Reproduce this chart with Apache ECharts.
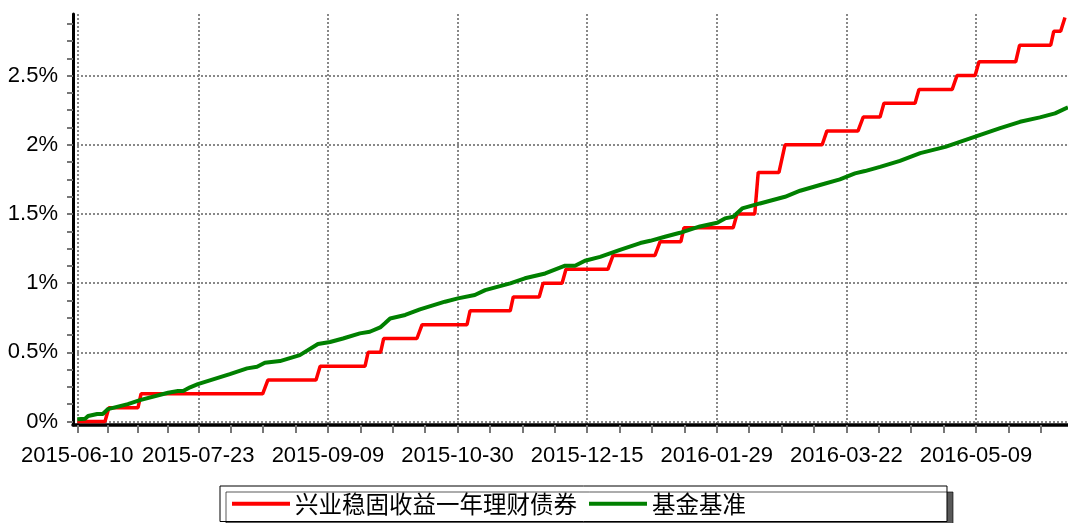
<!DOCTYPE html>
<html>
<head>
<meta charset="utf-8">
<script src="https://cdn.jsdelivr.net/npm/echarts@6/dist/echarts.min.js"></script>
<style>
  html, body { margin: 0; padding: 0; background: #fff; }
  #chart { width: 1068px; height: 523px; }
</style>
</head>
<body>
<div id="chart"></div>
<script>
// x 轴单位：交易日序号（0 = 2015-06-10）
var xLabelPos = [0, 28, 58, 88, 118, 148, 178, 208];
var xLabels = ['2015-06-10', '2015-07-23', '2015-09-09', '2015-10-30', '2015-12-15', '2016-01-29', '2016-03-22', '2016-05-09'];
var xTickPos = [0, 7, 14, 21, 28, 35.5, 43, 50.5, 58, 65.5, 73, 80.5, 88, 95.5, 103, 110.5, 118,
  125.5, 133, 140.5, 148, 155.5, 163, 170.5, 178, 185.5, 193, 200.5, 208, 215.5, 223];

var yLabelPos = [0, 0.5, 1, 1.5, 2, 2.5];
var yLabels = ['0%', '0.5%', '1%', '1.5%', '2%', '2.5%'];
var yTickPos = [0, 0.125, 0.25, 0.375, 0.5, 0.625, 0.75, 0.875, 1, 1.125, 1.25, 1.375, 1.5,
  1.625, 1.75, 1.875, 2, 2.125, 2.25, 2.375, 2.5, 2.625, 2.75, 2.875];

var seriesNames = ['兴业稳固收益一年理财债券', '基金基准'];

// 累计收益率（%）
var fundData = [
  [0, 0], [6.4, 0], [7.3, 0.1], [14.05, 0.1], [14.75, 0.2], [42.9, 0.2], [44.1, 0.3],
  [55.25, 0.3], [56.2, 0.4], [66.6, 0.4], [67.3, 0.5], [70.2, 0.5], [70.9, 0.6],
  [78.6, 0.6], [79.8, 0.7], [90.2, 0.7], [90.9, 0.8], [100.2, 0.8], [100.9, 0.9],
  [106.9, 0.9], [107.8, 1.0], [112.2, 1.0], [113.1, 1.1], [122.8, 1.1], [124.0, 1.2],
  [133.7, 1.2], [134.9, 1.3], [139.7, 1.3], [140.4, 1.4], [151.8, 1.4], [152.7, 1.5],
  [156.8, 1.5], [157.6, 1.8], [162.4, 1.8], [163.8, 2.0], [172.4, 2.0], [173.5, 2.1],
  [180.7, 2.1], [181.9, 2.2], [185.8, 2.2], [186.7, 2.3], [193.9, 2.3], [194.8, 2.4],
  [202.5, 2.4], [203.6, 2.5], [207.8, 2.5], [208.7, 2.6], [217.2, 2.6], [218.1, 2.72],
  [225.3, 2.72], [226.0, 2.82], [227.6, 2.82], [228.6, 2.92]
];

var benchData = [
  [0, 0.016], [1.8, 0.02], [2.5, 0.04], [4.6, 0.055], [5.9, 0.055], [7.1, 0.09],
  [11.7, 0.126], [14.5, 0.155], [21.0, 0.208], [23.3, 0.22], [24.5, 0.22], [26.1, 0.247],
  [27.9, 0.27], [35.3, 0.343], [39.3, 0.384], [41.6, 0.396], [43.4, 0.425], [46.9, 0.437],
  [51.5, 0.48], [55.7, 0.56], [58.5, 0.575], [61.5, 0.6], [65.4, 0.637], [67.7, 0.649],
  [70.1, 0.68], [71.2, 0.71], [72.4, 0.745], [75.9, 0.77], [79.3, 0.81], [85.1, 0.866],
  [88.1, 0.89], [92.0, 0.914], [94.4, 0.95], [100.2, 0.998], [103.6, 1.035], [108.3, 1.07],
  [112.9, 1.126], [115.2, 1.126], [117.5, 1.162], [121.0, 1.19], [125.6, 1.24],
  [130.3, 1.29], [132.6, 1.306], [136.0, 1.335], [139.5, 1.364], [144.1, 1.41],
  [148.1, 1.436], [149.9, 1.468], [151.8, 1.48], [153.9, 1.54], [158.0, 1.576],
  [163.8, 1.624], [167.3, 1.668], [171.9, 1.709], [176.5, 1.75], [180.0, 1.793],
  [182.3, 1.81], [185.8, 1.84], [190.4, 1.884], [195.1, 1.94], [200.9, 1.985],
  [208.0, 2.06], [213.6, 2.12], [218.2, 2.166], [222.8, 2.198], [226.3, 2.227], [229.3, 2.27]
];

var chart = echarts.init(document.getElementById('chart'));

var labelFont = { color: '#000', fontSize: 22, fontFamily: 'Liberation Sans, Arial, sans-serif' };
var gridLine = { show: true, lineStyle: { color: '#888', width: 2, type: [2, 2] } };

var option = {
  animation: false,
  backgroundColor: '#fff',
  color: ['#ff0000', '#008000'],
  grid: { left: 73, right: 0, top: 14, bottom: 98, containLabel: false },
  xAxis: [
    {
      type: 'value',
      min: -1,
      max: 229.3,
      axisLine: { show: true, onZero: false, lineStyle: { color: '#000', width: 3.5 } },
      axisTick: { show: false, customValues: xLabelPos },
      axisLabel: Object.assign({
        customValues: xLabelPos,
        margin: 20,
        formatter: function (v) { return xLabels[xLabelPos.indexOf(v)]; }
      }, labelFont),
      splitLine: gridLine
    },
    {
      // 只画刻度
      type: 'value',
      position: 'bottom',
      min: -1,
      max: 229.3,
      axisLine: { show: false, onZero: false },
      axisTick: { show: true, customValues: xTickPos, length: 8, lineStyle: { color: '#777', width: 2 } },
      axisLabel: { show: false },
      splitLine: { show: false }
    }
  ],
  yAxis: [
    {
      type: 'value',
      min: -0.025,
      max: 2.945,
      axisLine: { show: false, onZero: false },
      axisTick: { show: false, customValues: yLabelPos },
      axisLabel: Object.assign({
        customValues: yLabelPos,
        margin: 15,
        formatter: function (v) { return yLabels[yLabelPos.indexOf(v)]; }
      }, labelFont),
      splitLine: gridLine
    },
    {
      type: 'value',
      position: 'left',
      min: -0.025,
      max: 2.945,
      axisLine: { show: true, onZero: false, lineStyle: { color: '#000', width: 3 } },
      axisTick: { show: true, customValues: yTickPos, length: 6, lineStyle: { color: '#777', width: 2 } },
      axisLabel: { show: false },
      splitLine: { show: false }
    }
  ],
  legend: {
    left: 220,
    top: 486,
    padding: [6, 201, 6, 12],
    itemGap: 12,
    itemWidth: 58,
    itemHeight: 4,
    icon: 'rect',
    borderColor: '#000',
    borderWidth: 1,
    backgroundColor: '#fff',
    shadowColor: 'rgba(0,0,0,0.65)',
    shadowOffsetX: 6,
    shadowOffsetY: 6,
    shadowBlur: 0,
    textStyle: { color: '#000', fontSize: 23.5, fontFamily: 'Noto Sans CJK SC' },
    data: seriesNames
  },
  series: [
    {
      name: seriesNames[0],
      type: 'line',
      xAxisIndex: 0,
      yAxisIndex: 0,
      symbol: 'none',
      lineStyle: { width: 3.5, color: '#ff0000' },
      data: fundData
    },
    {
      name: seriesNames[1],
      type: 'line',
      xAxisIndex: 0,
      yAxisIndex: 0,
      symbol: 'none',
      lineStyle: { width: 4, color: '#008000' },
      data: benchData
    }
  ]
};

chart.setOption(option);
</script>
</body>
</html>
